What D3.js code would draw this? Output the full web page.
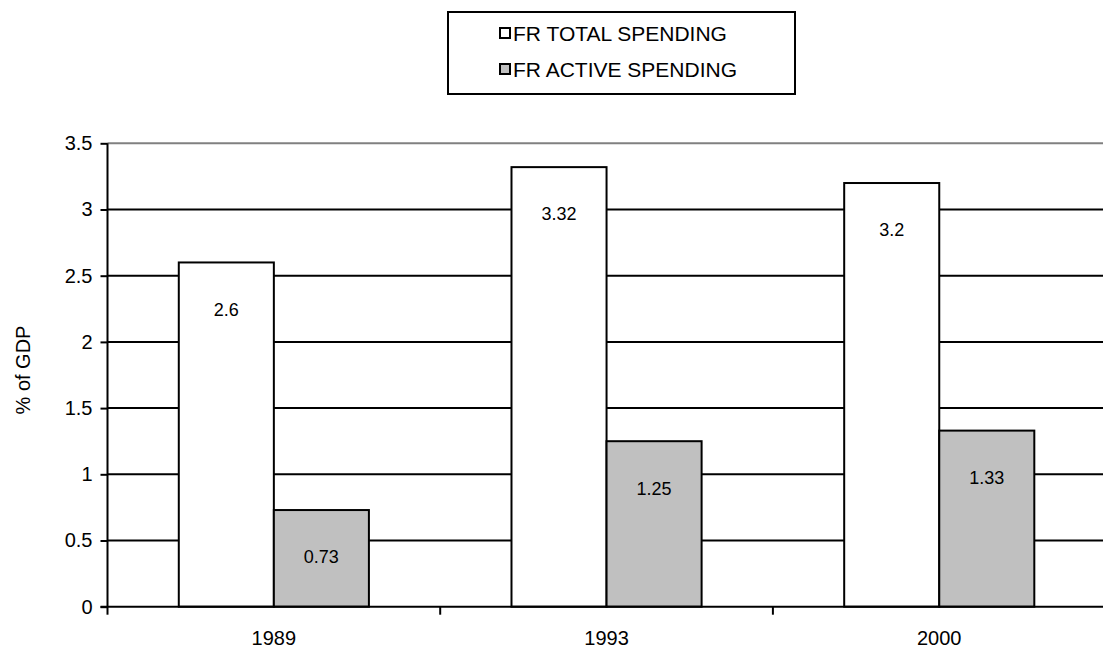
<!DOCTYPE html>
<html>
<head>
<meta charset="utf-8">
<script src="https://cdn.jsdelivr.net/npm/d3@7"></script>
<style>
  html, body { margin: 0; padding: 0; background: #fff; }
  svg { display: block; font-family: "Liberation Sans", Arial, sans-serif; }
</style>
</head>
<body>
<svg id="chart" width="1103" height="650"></svg>
<script>
// Labour market policy spending, France (% of GDP)
const years = ["1989", "1993", "2000"];
const seriesNames = ["FR TOTAL SPENDING", "FR ACTIVE SPENDING"];
const totalSpending = [2.6, 3.32, 3.2];
const activeSpending = [0.73, 1.25, 1.33];
const yTicks = [0, 0.5, 1, 1.5, 2, 2.5, 3, 3.5];
const yTitle = "% of GDP";

const fills = ["#ffffff", "#c0c0c0"];
const seriesValues = [totalSpending, activeSpending];

const svg = d3.select("#chart");

const plot = { left: 107.5, top: 143.3, bottom: 606.7, step: 332.7 };
plot.right = plot.left + plot.step * years.length;

const y = d3.scaleLinear().domain([0, 3.5]).range([plot.bottom, plot.top]);
const x0 = d3.scaleBand().domain(years).range([plot.left, plot.right]).padding(0);
// two bars per year, gap between groups is 1.5 bar widths
const barW = x0.bandwidth() / 3.5;
const x1 = d3.scaleBand().domain(seriesNames).range([-barW, barW]).padding(0);

// horizontal gridlines
svg.append("g")
  .selectAll("line")
  .data(yTicks.filter(t => t > 0))
  .join("line")
  .attr("x1", plot.left).attr("x2", plot.right)
  .attr("y1", d => y(d)).attr("y2", d => y(d))
  .attr("stroke", d => d === 3.5 ? "#808080" : "#000")
  .attr("stroke-width", 2);

// bars
const groups = svg.append("g")
  .selectAll("g")
  .data(years)
  .join("g")
  .attr("transform", d => `translate(${x0(d) + x0.bandwidth() / 2},0)`);

groups.selectAll("rect")
  .data((d, i) => seriesNames.map((s, k) => ({ s, k, v: seriesValues[k][i] })))
  .join("rect")
  .attr("x", d => x1(d.s))
  .attr("width", x1.bandwidth())
  .attr("y", d => y(d.v))
  .attr("height", d => y(0) - y(d.v))
  .attr("fill", d => fills[d.k])
  .attr("stroke", "#000")
  .attr("stroke-width", 2);

groups.selectAll("text")
  .data((d, i) => seriesNames.map((s, k) => ({ s, k, v: seriesValues[k][i] })))
  .join("text")
  .attr("x", d => x1(d.s) + x1.bandwidth() / 2)
  .attr("y", d => y(d.v) + 47)
  .attr("dy", "0.35em")
  .attr("text-anchor", "middle")
  .attr("font-size", 18)
  .attr("fill", "#000")
  .text(d => String(d.v));

// y axis
const yAxis = d3.axisLeft(y).tickValues(yTicks).tickSize(7).tickPadding(8)
  .tickFormat(d => String(d));
const gy = svg.append("g").attr("transform", `translate(${plot.left},0)`).call(yAxis);
gy.select(".domain").attr("stroke", "#000").attr("stroke-width", 2)
  .attr("d", `M0,${plot.top}V${plot.bottom}`);
gy.selectAll(".tick line").attr("stroke", "#000").attr("stroke-width", 2);
gy.selectAll(".tick text").attr("font-size", 20).attr("fill", "#000")
  .attr("font-family", "Liberation Sans, Arial, sans-serif");

// x axis with ticks on category boundaries
const gx = svg.append("g").attr("transform", `translate(0,${plot.bottom})`);
gx.append("line")
  .attr("x1", plot.left - 7).attr("x2", plot.right)
  .attr("y1", 0).attr("y2", 0)
  .attr("stroke", "#000").attr("stroke-width", 2);
gx.selectAll(".bound")
  .data(years)
  .join("line")
  .attr("class", "bound")
  .attr("x1", d => x0(d)).attr("x2", d => x0(d))
  .attr("y1", 0).attr("y2", 8)
  .attr("stroke", "#000").attr("stroke-width", 2);
gx.selectAll("text")
  .data(years)
  .join("text")
  .attr("x", d => x0(d) + x0.bandwidth() / 2)
  .attr("y", 38)
  .attr("text-anchor", "middle")
  .attr("font-size", 20)
  .attr("fill", "#000")
  .text(d => d);

// y axis title
svg.append("text")
  .attr("transform", `translate(23,${(plot.top + plot.bottom) / 2 - 5}) rotate(-90)`)
  .attr("text-anchor", "middle")
  .attr("dy", "0.35em")
  .attr("font-size", 20)
  .attr("fill", "#000")
  .text(yTitle);

// legend
const legend = svg.append("g");
legend.append("rect")
  .attr("x", 448).attr("y", 12)
  .attr("width", 347).attr("height", 82)
  .attr("fill", "#fff").attr("stroke", "#000").attr("stroke-width", 2);
const rowY = d3.scalePoint().domain(seriesNames).range([33, 69]);
const items = legend.selectAll(".item")
  .data(seriesNames)
  .join("g")
  .attr("class", "item")
  .attr("transform", d => `translate(500,${rowY(d)})`);
items.append("rect")
  .attr("x", 0).attr("y", -5)
  .attr("width", 10).attr("height", 10)
  .attr("fill", (d, i) => fills[i])
  .attr("stroke", "#000").attr("stroke-width", 2);
items.append("text")
  .attr("x", 13).attr("dy", "0.36em")
  .attr("font-size", 21)
  .attr("fill", "#000")
  .text(d => d);
</script>
</body>
</html>
